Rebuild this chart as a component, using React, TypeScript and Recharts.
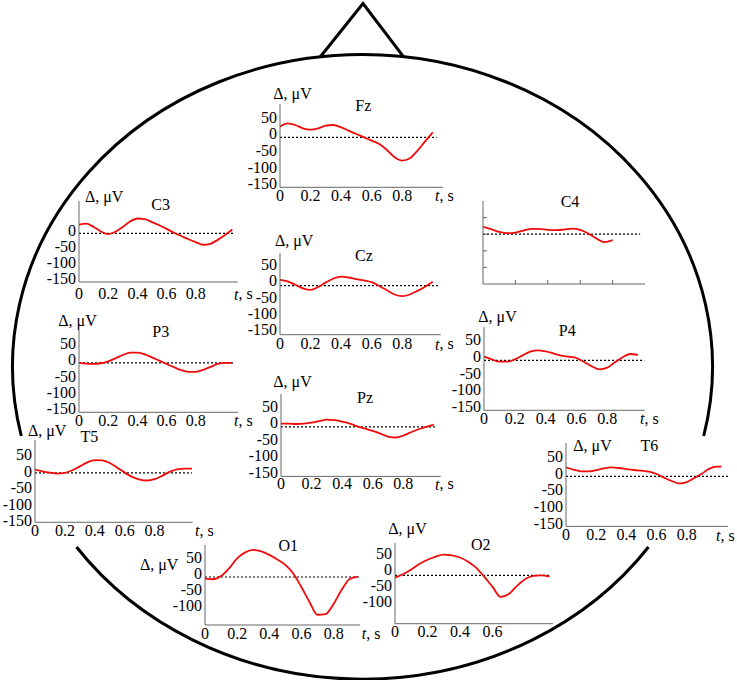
import React from 'react';
import { LineChart, Line, XAxis, YAxis, ReferenceLine } from 'recharts';

const FONT = '"Liberation Serif", "Times New Roman", Times, serif';
const RED = '#f00a0a';
const AXIS = '#666666';

// ---- time grids (s) ----
const T_TO_080 = [0, 0.05, 0.1, 0.15, 0.2, 0.25, 0.3, 0.35, 0.4, 0.45, 0.5, 0.55, 0.6, 0.65, 0.7, 0.75, 0.8];
const T_TO_095 = [0, 0.05, 0.1, 0.15, 0.2, 0.25, 0.3, 0.35, 0.4, 0.45, 0.5, 0.55, 0.6, 0.65, 0.7, 0.75, 0.8, 0.85, 0.9, 0.95];
const T_TO_100 = [0, 0.05, 0.1, 0.15, 0.2, 0.25, 0.3, 0.35, 0.4, 0.45, 0.5, 0.55, 0.6, 0.65, 0.7, 0.75, 0.8, 0.85, 0.9, 0.95, 1.0];
const T_TO_103 = [0, 0.05, 0.1, 0.15, 0.2, 0.25, 0.3, 0.35, 0.4, 0.45, 0.5, 0.55, 0.6, 0.65, 0.7, 0.75, 0.8, 0.85, 0.9, 0.95, 1.0, 1.03];
const T_TO_105 = [0, 0.05, 0.1, 0.15, 0.2, 0.25, 0.3, 0.35, 0.4, 0.45, 0.5, 0.55, 0.6, 0.65, 0.7, 0.75, 0.8, 0.85, 0.9, 0.95, 1.0, 1.05];

// ---- series values (Δ, µV) ----
const FZ_UV = [32, 42, 37, 27, 23, 27, 35, 37, 30, 20, 10, 0, -10, -20, -38, -60, -70, -63, -40, -12, 15];
const C3_UV = [27, 30, 20, 6, -2, 5, 20, 37, 46, 44, 35, 25, 14, 2, -8, -18, -27, -35, -32, -20, -5, 12];
const C4_UV = [22, 15, 7, 3, 5, 11, 16, 16, 13, 12, 14, 17, 13, 2, -13, -24, -18];
const CZ_UV = [18, 13, 3, -8, -13, -4, 10, 22, 28, 25, 20, 16, 11, -1, -14, -27, -32, -27, -16, -3, 12];
const P3_UV = [0, -2, -3, -1, 5, 14, 24, 31, 31, 26, 17, 7, -3, -13, -22, -27, -27, -21, -12, -3, 0, 0];
const P4_UV = [11, 3, -4, -4, 3, 15, 26, 30, 27, 21, 14, 11, 7, -5, -18, -27, -22, -6, 9, 19, 16];
const PZ_UV = [10, 10, 9, 10, 13, 18, 22, 21, 16, 10, 2, -5, -12, -20, -29, -32, -26, -16, -7, 0, 7];
const T5_UV = [10, 5, 1, -2, 0, 8, 20, 32, 39, 38, 30, 16, 1, -12, -20, -23, -19, -9, 3, 11, 13, 13];
const T6_UV = [27, 20, 15, 15, 19, 24, 27, 25, 22, 19, 17, 14, 7, -4, -14, -21, -17, -5, 8, 23, 29, 29];
const O1_UV = [-5, -7, 3, 27, 58, 77, 85, 80, 69, 55, 38, 10, -32, -78, -118, -116, -84, -40, -6, 1];
const O2_UV = [-7, 3, 18, 35, 48, 58, 64, 62, 55, 42, 23, -5, -36, -67, -58, -33, -12, -2, 0, -4];

// ---- tick labels ----
const Y_TICKS_FULL = [50, 0, -50, -100, -150];
const Y_TICKS_NO50 = [0, -50, -100, -150];
const Y_TICKS_NO150 = [50, 0, -50, -100];
const Y_TICKS_MARKS = [50, 0, -50, -100];
const X_TICKS_FULL = [0, 0.2, 0.4, 0.6, 0.8];
const X_TICKS_SHORT = [0, 0.2, 0.4, 0.6];
const X_TICKS_MARKS = [0.2, 0.4, 0.6, 0.8];
const Y_DOMAIN = [-150, 100];

const Y_TITLE = 'Δ, μV';

type Panel = {
  name: string;
  t: number[];
  v: number[];
  x0: number; x1: number; y0: number; y1: number;
  xMax: number;
  yTicks: number[];
  xTicks: number[];
  zeroEnd: number;
  ydy: number;
  xdy: number;
  bare?: boolean;
  title: [number, number];
  delta?: [number, number];
  ts?: [number, number];
};

const PANELS: Panel[] = [
  { name: 'Fz', t: T_TO_100, v: FZ_UV, x0: 280, x1: 443, y0: 104, y1: 187.3, xMax: 1.067, yTicks: Y_TICKS_FULL, xTicks: X_TICKS_FULL, zeroEnd: 1.026, ydy: -3.5, xdy: 8, title: [363.3, 105.7], delta: [273.3, 93.3], ts: [435, 195] },
  { name: 'C3', t: T_TO_105, v: C3_UV, x0: 79.3, x1: 238, y0: 200.7, y1: 281.7, xMax: 1.087, yTicks: Y_TICKS_NO50, xTicks: X_TICKS_FULL, zeroEnd: 1.06, ydy: -3.3, xdy: 12, title: [160.7, 204], delta: [85, 196.7], ts: [234, 293.7] },
  { name: 'C4', t: T_TO_080, v: C4_UV, x0: 484, x1: 645, y0: 200.7, y1: 282.7, xMax: 1.0, yTicks: Y_TICKS_MARKS, xTicks: X_TICKS_MARKS, zeroEnd: 0.97, ydy: 0, xdy: 0, bare: true, title: [570, 201] },
  { name: 'Cz', t: T_TO_100, v: CZ_UV, x0: 280, x1: 440.7, y0: 253.3, y1: 335, xMax: 1.052, yTicks: Y_TICKS_FULL, xTicks: X_TICKS_FULL, zeroEnd: 1.04, ydy: -5, xdy: 8.7, title: [364, 255], delta: [275, 240], ts: [435, 343.7] },
  { name: 'P3', t: T_TO_105, v: P3_UV, x0: 79.3, x1: 238.3, y0: 330, y1: 412.3, xMax: 1.089, yTicks: Y_TICKS_FULL, xTicks: X_TICKS_FULL, zeroEnd: 1.066, ydy: -3.3, xdy: 8, title: [160.7, 331], delta: [58.3, 320], ts: [234, 420.3] },
  { name: 'P4', t: T_TO_100, v: P4_UV, x0: 484.3, x1: 645, y0: 326.7, y1: 410, xMax: 1.043, yTicks: Y_TICKS_FULL, xTicks: X_TICKS_FULL, zeroEnd: 1.04, ydy: -3.7, xdy: 8, title: [567.3, 330], delta: [478.3, 316], ts: [640, 418] },
  { name: 'Pz', t: T_TO_100, v: PZ_UV, x0: 281, x1: 440.7, y0: 394.3, y1: 476.7, xMax: 1.045, yTicks: Y_TICKS_FULL, xTicks: X_TICKS_FULL, zeroEnd: 1.02, ydy: -4.3, xdy: 7, title: [365, 397.3], delta: [273.3, 381.7], ts: [435, 483.7] },
  { name: 'T5', t: T_TO_105, v: T5_UV, x0: 35, x1: 192.7, y0: 440, y1: 522.3, xMax: 1.055, yTicks: Y_TICKS_FULL, xTicks: X_TICKS_FULL, zeroEnd: 1.05, ydy: -1.5, xdy: 8, title: [89.3, 436.7], delta: [28, 430.3], ts: [195, 530.3] },
  { name: 'T6', t: T_TO_103, v: T6_UV, x0: 566, x1: 728, y0: 443.3, y1: 526.7, xMax: 1.073, yTicks: Y_TICKS_FULL, xTicks: X_TICKS_FULL, zeroEnd: 1.073, ydy: -3.3, xdy: 8.3, title: [649.3, 445.3], delta: [573.3, 445], ts: [716, 535] },
  { name: 'O1', t: T_TO_095, v: O1_UV, x0: 205, x1: 360, y0: 545, y1: 625, xMax: 0.964, yTicks: Y_TICKS_NO150, xTicks: X_TICKS_FULL, zeroEnd: 0.964, ydy: -4, xdy: 8, title: [288.3, 545.3], delta: [140, 564.3], ts: [361.7, 633] },
  { name: 'O2', t: T_TO_095, v: O2_UV, x0: 395, x1: 553, y0: 543.3, y1: 624, xMax: 0.972, yTicks: Y_TICKS_NO150, xTicks: X_TICKS_SHORT, zeroEnd: 0.955, ydy: -6, xdy: 8.3, title: [480.7, 544], delta: [388.3, 528.3] },
];

const ML = 50, MR = 6, MT = 6, MB = 26;

const Empty = () => <g />;

function EegPanel({ p }: { p: Panel }) {
  const rows = p.t.map((t, i) => ({ t, v: p.v[i] }));
  const w = p.x1 - p.x0;
  const h = p.y1 - p.y0;
  const yTick = (props: any) => (
    <text x={props.x} y={props.y + p.ydy} textAnchor="end" dominantBaseline="central"
      fontFamily={FONT} fontSize={16} fill="#000">{props.payload.value}</text>
  );
  const xTick = (props: any) => (
    <text x={props.x} y={props.y + p.xdy} textAnchor="middle" dominantBaseline="central"
      fontFamily={FONT} fontSize={16} fill="#000">{props.payload.value}</text>
  );
  return (
    <div style={{ position: 'absolute', left: p.x0 - ML, top: p.y0 - MT }}>
      <LineChart width={w + ML + MR} height={h + MT + MB} data={rows}
        margin={{ top: MT, right: MR, bottom: MB - 1, left: ML - 1 }} style={{ overflow: 'visible' }}>
        <XAxis type="number" dataKey="t" domain={[0, p.xMax]} allowDataOverflow ticks={p.xTicks}
          interval={0} height={1} mirror={!!p.bare} tickSize={p.bare ? 4 : 0} tickMargin={0}
          axisLine={{ stroke: AXIS, strokeWidth: 1 }}
          tickLine={p.bare ? { stroke: AXIS, strokeWidth: 1 } : false}
          tick={p.bare ? Empty : xTick} />
        <YAxis type="number" domain={Y_DOMAIN} allowDataOverflow ticks={p.yTicks}
          interval={0} width={1} mirror={!!p.bare} tickSize={p.bare ? 4 : 0} tickMargin={p.bare ? 0 : 3}
          axisLine={{ stroke: AXIS, strokeWidth: 1 }}
          tickLine={p.bare ? { stroke: AXIS, strokeWidth: 1 } : false}
          tick={p.bare ? Empty : yTick} />
        <ReferenceLine segment={[{ x: 0, y: 0 }, { x: p.zeroEnd, y: 0 }]} stroke="#000"
          strokeDasharray="2 2" strokeWidth={1.2} ifOverflow="visible" />
        <Line type="monotone" dataKey="v" stroke={RED} strokeWidth={1.8} dot={false}
          isAnimationActive={false} />
      </LineChart>
    </div>
  );
}

export default function App() {
  return (
    <div style={{ position: 'absolute', left: 0, top: 0, width: 737, height: 680, background: '#fff', overflow: 'hidden' }}>
      <svg width={737} height={680} style={{ position: 'absolute', left: 0, top: 0 }}>
        <path d="M 21.3 436 A 350 312 0 1 1 703.7 436" fill="none" stroke="#000" strokeWidth={3} />
        <path d="M 76.5 547 A 350 312 0 0 0 648.5 547" fill="none" stroke="#000" strokeWidth={3} />
        <path d="M 320 57.3 L 363 3.5 L 404 57.3" fill="none" stroke="#000" strokeWidth={3} strokeLinejoin="miter" />
      </svg>
      {PANELS.map((p) => <EegPanel key={p.name} p={p} />)}
      <svg width={737} height={680} style={{ position: 'absolute', left: 0, top: 0, pointerEvents: 'none' }}>
        {PANELS.map((p) => (
          <g key={p.name} fontFamily={FONT} fontSize={16} fill="#000">
            <text x={p.title[0]} y={p.title[1]} textAnchor="middle" dominantBaseline="central">{p.name}</text>
            {p.delta && (
              <text x={p.delta[0]} y={p.delta[1]} textAnchor="start" dominantBaseline="central">{Y_TITLE}</text>
            )}
            {p.ts && (
              <text x={p.ts[0]} y={p.ts[1]} textAnchor="start" dominantBaseline="central">
                <tspan fontStyle="italic">t</tspan>, s
              </text>
            )}
          </g>
        ))}
      </svg>
    </div>
  );
}
